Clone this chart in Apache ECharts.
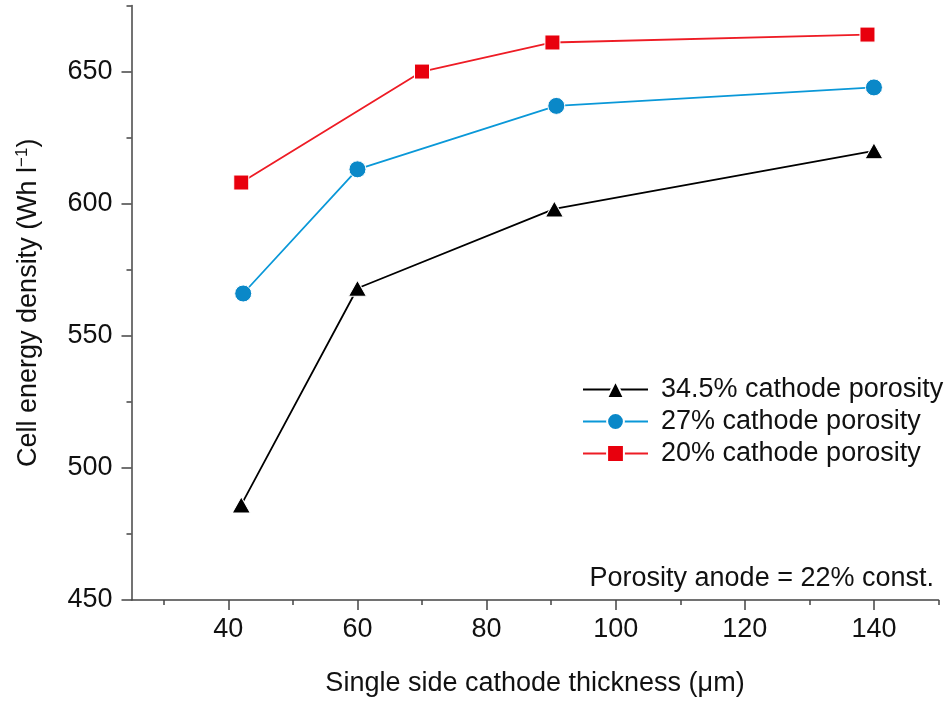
<!DOCTYPE html>
<html><head><meta charset="utf-8">
<script src="https://cdn.jsdelivr.net/npm/echarts@6/dist/echarts.min.js"></script>
<style>html,body{margin:0;padding:0;background:#fff}#c{width:951px;height:702px}</style>
</head><body><div id="c"></div>
<script>
const seriesNames = ['34.5% cathode porosity', '27% cathode porosity', '20% cathode porosity'];
const thickness345 = [42, 60, 90.5, 140];
const density345 = [486, 568, 598, 620];
const thickness27 = [42.3, 60, 90.8, 140];
const density27 = [566, 613, 637, 644];
const thickness20 = [42, 70, 90.2, 139];
const density20 = [608, 650, 661, 664];
const xMajorTicks = [40, 60, 80, 100, 120, 140];
const xMinorTicks = [30, 50, 70, 90, 110, 130, 150];
const yMajorTicks = [450, 500, 550, 600, 650];
const yMinorTicks = [475, 525, 575, 625, 675];
const annotation = 'Porosity anode = 22% const.';

const FONT = '"Liberation Sans", Arial, Helvetica, sans-serif';
const FS = 27;
const AX = '#444';
const zip = (xs, ys) => xs.map((x, i) => [x, ys[i]]);

const chart = echarts.init(document.getElementById('c'), null, {renderer: 'canvas'});
const baseX = {type: 'value', min: 25, max: 150, gridIndex: 0, position: 'bottom', splitLine: {show: false}};
const baseY = {type: 'value', min: 450, max: 675, gridIndex: 0, position: 'left', splitLine: {show: false}};
chart.setOption({
  animation: false,
  backgroundColor: '#fff',
  textStyle: {fontFamily: FONT},
  grid: {left: 131.5, right: 12.5, top: 5.5, bottom: 102, containLabel: false},
  xAxis: [
    Object.assign({}, baseX, {
      axisLine: {show: true, lineStyle: {color: AX, width: 1.5}},
      axisTick: {show: true, customValues: xMajorTicks, length: 10, lineStyle: {color: AX, width: 1.5}},
      axisLabel: {show: true, customValues: xMajorTicks, fontSize: FS, color: '#111', fontFamily: FONT, margin: 16},
      name: 'Single side cathode thickness (\u03bcm)', nameLocation: 'middle', nameGap: 70,
      nameTextStyle: {fontSize: FS, color: '#111', fontFamily: FONT}
    }),
    Object.assign({}, baseX, {
      axisLine: {show: false},
      axisTick: {show: true, customValues: xMinorTicks, length: 5, lineStyle: {color: AX, width: 1.5}},
      axisLabel: {show: false}
    })
  ],
  yAxis: [
    Object.assign({}, baseY, {
      axisLine: {show: true, lineStyle: {color: AX, width: 1.5}},
      axisTick: {show: true, customValues: yMajorTicks, length: 10, lineStyle: {color: AX, width: 1.5}},
      axisLabel: {show: true, customValues: yMajorTicks, fontSize: FS, color: '#111', fontFamily: FONT, margin: 19},
      name: 'Cell energy density (Wh l{sup|\u22121})', nameLocation: 'middle', nameGap: 88,
      nameTextStyle: {fontSize: FS, color: '#111', fontFamily: FONT, lineHeight: 30,
        rich: {sup: {fontSize: 17, verticalAlign: 'top', lineHeight: 17, color: '#111', fontFamily: FONT}}}
    }),
    Object.assign({}, baseY, {
      axisLine: {show: false},
      axisTick: {show: true, customValues: yMinorTicks, length: 5, lineStyle: {color: AX, width: 1.5}},
      axisLabel: {show: false}
    })
  ],
  legend: {
    orient: 'vertical', left: 577, top: 371, itemWidth: 65, itemHeight: 21, itemGap: 5,
    data: seriesNames,
    textStyle: {fontSize: FS, color: '#111', fontFamily: FONT, lineHeight: 27, padding: [0, 0, 0, 8]}
  },
  graphic: [{
    type: 'text', right: 17, top: 565,
    style: {text: annotation, font: FS + 'px ' + FONT, fill: '#111'}
  }],
  series: [
    {name: seriesNames[0], type: 'line', data: zip(thickness345, density345), symbol: 'triangle', symbolSize: [18, 16],
      itemStyle: {color: '#000', borderColor: '#fff', borderWidth: 1}, lineStyle: {color: '#000', width: 1.8}},
    {name: seriesNames[1], type: 'line', data: zip(thickness27, density27), symbol: 'circle', symbolSize: 17,
      itemStyle: {color: '#0a88c8', borderColor: '#fff', borderWidth: 1}, lineStyle: {color: '#0a98d8', width: 1.8}},
    {name: seriesNames[2], type: 'line', data: zip(thickness20, density20), symbol: 'rect', symbolSize: 15,
      itemStyle: {color: '#e8000d', borderColor: '#fff', borderWidth: 1}, lineStyle: {color: '#ee1c25', width: 1.8}}
  ]
});
</script></body></html>
